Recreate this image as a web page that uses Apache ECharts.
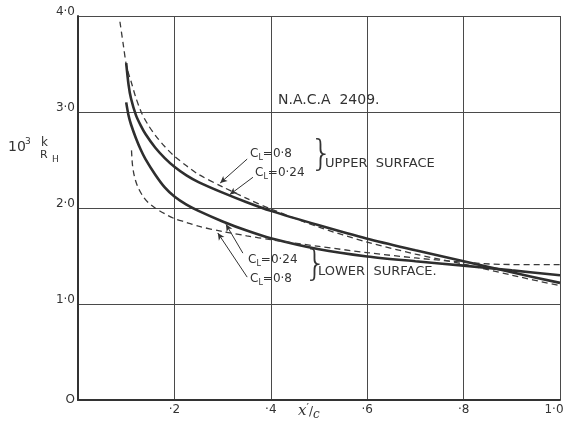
<!DOCTYPE html>
<html>
<head>
<meta charset="utf-8">
<script src="https://cdn.jsdelivr.net/npm/echarts@6/dist/echarts.min.js"></script>
<style>
html,body{margin:0;padding:0;background:#fff;}
#chart{width:566px;height:425px;}
</style>
</head>
<body>
<div id="chart"></div>
<script>
// ---- data (x'/c, 10^3 k/R_H) ----
var xTickLabels = ['', '·2', '·4', '·6', '·8', '1·0'];
var yTickLabels = ['O', '1·0', '2·0', '3·0', '4·0'];

var upperCL08 = [[0.087,3.94],[0.094,3.70],[0.101,3.47],[0.110,3.32],[0.120,3.15],[0.132,2.99],[0.145,2.87],[0.160,2.76],[0.180,2.64],[0.200,2.54],[0.225,2.44],[0.250,2.35],[0.300,2.22],[0.350,2.10],[0.40,1.99],[0.50,1.80],[0.60,1.645],[0.70,1.52],[0.80,1.415],[0.90,1.30],[1.00,1.19]];
var upperCL024 = [[0.100,3.51],[0.105,3.28],[0.110,3.14],[0.120,2.97],[0.130,2.86],[0.140,2.77],[0.160,2.63],[0.180,2.52],[0.200,2.43],[0.225,2.34],[0.250,2.27],[0.30,2.16],[0.35,2.06],[0.40,1.97],[0.50,1.82],[0.60,1.68],[0.70,1.56],[0.80,1.445],[0.90,1.33],[1.00,1.22]];
var lowerCL024 = [[0.100,3.10],[0.105,2.96],[0.110,2.87],[0.120,2.73],[0.130,2.61],[0.140,2.51],[0.160,2.35],[0.180,2.215],[0.200,2.12],[0.225,2.035],[0.250,1.97],[0.30,1.86],[0.35,1.765],[0.40,1.685],[0.50,1.57],[0.60,1.495],[0.70,1.445],[0.80,1.40],[0.90,1.35],[1.00,1.30]];
var lowerCL08 = [[0.111,2.60],[0.113,2.45],[0.117,2.33],[0.124,2.22],[0.135,2.12],[0.145,2.06],[0.160,2.00],[0.180,1.94],[0.200,1.89],[0.225,1.85],[0.250,1.81],[0.30,1.755],[0.35,1.71],[0.40,1.67],[0.50,1.60],[0.60,1.535],[0.70,1.48],[0.80,1.435],[0.88,1.412],[1.00,1.41]];

// annotation arrows: [from, to] in data units
var arrows = [
  [[0.351,2.51],[0.295,2.26]],
  [[0.363,2.32],[0.315,2.14]],
  [[0.342,1.53],[0.307,1.83]],
  [[0.351,1.28],[0.290,1.74]]
];

var ink = '#333';
var chart = echarts.init(document.getElementById('chart'), null, {renderer:'canvas'});

function curve(name, data, dashed) {
  return {
    name: name, type: 'line', data: data, smooth: 0.3,
    showSymbol: false, symbol: 'none', silent: true, z: 3,
    lineStyle: dashed ? {color: '#3a3a3a', width: 1.3, type: [6,4]} : {color: '#2e2e2e', width: 2.6}
  };
}

var fontFam = '"DejaVu Sans", sans-serif';
function txt(x, y, text, size, extra) {
  var s = {text: text, fill: ink, font: (size||11) + 'px ' + fontFam};
  if (extra) for (var k in extra) s[k] = extra[k];
  return {type: 'text', left: x, top: y, style: s, z: 10};
}
function clLabel(x, y, val) {
  return {type: 'text', left: x, top: y, z: 10, style: {
    text: '{c|C}{l|L}{v|=' + val + '}',
    rich: {
      c: {fontSize: 12, fontFamily: fontFam, fill: ink},
      l: {fontSize: 8, fontFamily: fontFam, fill: ink, padding: [7,0,0,0]},
      v: {fontSize: 12, fontFamily: fontFam, fill: ink}
    }
  }};
}

var option = {
  backgroundColor: '#fff',
  animation: false,
  grid: {left: 78, right: 6, top: 16, bottom: 25, show: false, containLabel: false, outerBoundsMode: 'none'},
  xAxis: {
    type: 'value', min: 0, max: 1, interval: 0.2,
    axisLine: {show: true, onZero: false, lineStyle: {color: ink, width: 2}},
    axisTick: {show: false},
    splitLine: {show: true, lineStyle: {color: '#4a4a4a', width: 1}},
    axisLabel: {
      color: ink, fontSize: 12, fontFamily: fontFam, margin: 4, showMaxLabel: true,
      formatter: function (v) {
        var i = Math.round(v / 0.2);
        return i === 5 ? '{e|' + xTickLabels[i] + '}' : xTickLabels[i];
      },
      rich: {e: {fontSize: 12, fontFamily: fontFam, color: ink, padding: [0,12,0,0]}}
    }
  },
  yAxis: {
    type: 'value', min: 0, max: 4, interval: 1,
    axisLine: {show: true, onZero: false, lineStyle: {color: ink, width: 2}},
    axisTick: {show: false},
    splitLine: {show: true, lineStyle: {color: '#4a4a4a', width: 1}},
    axisLabel: {
      color: ink, fontSize: 12, fontFamily: fontFam, margin: 3, showMaxLabel: true,
      formatter: function (v) { return v === 0 ? '{z|' + yTickLabels[0] + '}' : '{n|' + yTickLabels[Math.round(v)] + '}'; },
      rich: {
        z: {fontSize: 12, fontFamily: fontFam, color: ink},
        n: {fontSize: 12, fontFamily: fontFam, color: ink, padding: [0,0,8,0]}
      }
    }
  },
  series: [
    curve('Upper surface CL=0.8', upperCL08, true),
    curve('Upper surface CL=0.24', upperCL024, false),
    curve('Lower surface CL=0.24', lowerCL024, false),
    curve('Lower surface CL=0.8', lowerCL08, true),
    {
      type: 'line', data: [], silent: true, z: 4,
      markLine: {
        silent: true, symbol: ['none', 'arrow'], symbolSize: [5, 7],
        label: {show: false},
        lineStyle: {color: ink, width: 1, type: 'solid'},
        data: arrows.map(function (a) { return [{coord: a[0]}, {coord: a[1]}]; })
      }
    }
  ],
  graphic: [
    txt(278, 93, 'N.A.C.A  2409.', 14),
    clLabel(250, 148, '0·8'),
    clLabel(255, 167, '0·24'),
    txt(310, 138, '}', 36, {font: 'lighter 36px ' + fontFam}),
    txt(325, 157, 'UPPER  SURFACE', 13),
    clLabel(248, 254, '0·24'),
    clLabel(250, 273, '0·8'),
    txt(304, 248, '}', 36, {font: 'lighter 36px ' + fontFam}),
    txt(318, 265, 'LOWER  SURFACE.', 13),
    // y-axis name
    txt(8, 140, '10', 14),
    txt(25, 137, '3', 9),
    txt(41, 137, 'k', 12),
    txt(40, 150, 'R', 11),
    txt(52, 155, 'H', 9),
    // x-axis name
    {type: 'text', left: 298, top: 403, z: 10, style: {
      text: '{x|x}{p|′}{s|/}{c|c}',
      rich: {
        x: {fontSize: 15, fontFamily: '"DejaVu Serif", serif', fontStyle: 'italic', fill: ink},
        p: {fontSize: 11, fontFamily: fontFam, fill: ink, padding: [0,0,6,0]},
        s: {fontSize: 12, fontFamily: fontFam, fill: ink},
        c: {fontSize: 12, fontFamily: '"DejaVu Serif", serif', fontStyle: 'italic', fill: ink, padding: [6,0,0,0]}
      }
    }}
  ]
};
chart.setOption(option);
</script>
</body>
</html>
